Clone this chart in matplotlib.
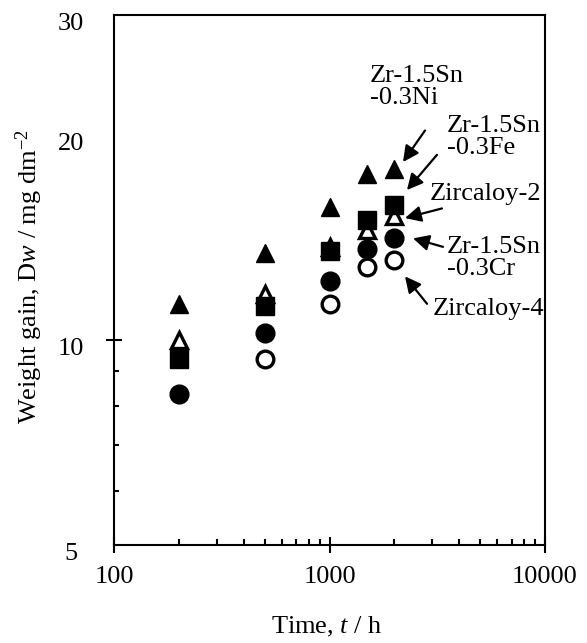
import matplotlib
matplotlib.use("Agg")
from matplotlib import pyplot as plt
from matplotlib.ticker import FixedLocator, NullFormatter
from matplotlib.transforms import ScaledTranslation

# Oxidation data
times = [200, 500, 1000, 1500, 2000]
zr_ni = [11.3, 13.4, 15.7, 17.5, 17.8]
zr_fe = [9.38, 11.2, 13.5, 15.0, 15.8]
zry2 = [10.0, 11.7, 13.7, 14.5, 15.2]
zr_cr = [8.33, 10.24, 12.2, 13.6, 14.1]
zry4_times = [500, 1000, 1500, 2000]
zry4 = [9.38, 11.3, 12.8, 13.1]

x_ticks = [100, 1000, 10000]
x_labels = ["100", "1000", "10000"]
y_ticks = [5, 10, 20, 30]
y_labels = ["5", "10", "20", "30"]

plt.rcParams['font.family'] = ['Liberation Serif', 'DejaVu Serif']
plt.rcParams['mathtext.fontset'] = 'custom'
plt.rcParams['mathtext.rm'] = 'Liberation Serif'
plt.rcParams['mathtext.it'] = 'Liberation Serif:italic'

fs = 19
fig = plt.figure(figsize=(5.87, 6.43), dpi=100)
ax = fig.add_axes([114 / 587, 98 / 643, 431 / 587, 530 / 643])

ms = 13.5
ax.plot(zry4_times, zry4, 'o', ms=ms - 1.5, mfc='white', mec='black', mew=2.4, ls='none', zorder=3)
ax.plot(times, zr_cr, 'o', ms=ms, mfc='black', mec='black', mew=1, ls='none', zorder=4)
ax.plot(times, zry2, '^', ms=ms - 1.5, mfc='white', mec='black', mew=2.4, ls='none', zorder=5)
ax.plot(times, zr_fe, 's', ms=ms, mfc='black', mec='black', mew=1, ls='none', zorder=6)
ax.plot(times, zr_ni, '^', ms=ms, mfc='black', mec='black', mew=1, ls='none', zorder=7)

ax.set_xscale('log')
ax.set_yscale('log')
ax.set_xlim(100, 10000)
ax.set_ylim(5, 30)

ax.set_xticks(x_ticks, x_labels)
ax.xaxis.set_minor_locator(FixedLocator([200, 300, 400, 500, 600, 700, 800, 900,
                                         2000, 3000, 4000, 5000, 6000, 7000, 8000, 9000]))
ax.xaxis.set_minor_formatter(NullFormatter())
ax.set_yticks(y_ticks, y_labels, ha='center')
ax.yaxis.set_minor_locator(FixedLocator([6, 7, 8, 9, 20]))
ax.yaxis.set_minor_formatter(NullFormatter())

ax.tick_params(axis='x', which='major', direction='inout', length=11, width=1.5, pad=9.5, labelsize=fs)
ax.tick_params(axis='x', which='minor', direction='in', length=4.5, width=1.5)
ax.tick_params(axis='y', which='major', direction='inout', length=11, width=1.5, pad=25.5, labelsize=fs)
ax.tick_params(axis='y', which='minor', direction='in', length=3.5, width=1.5)

# only the 10 tick keeps its major tick line
for tick in ax.yaxis.get_major_ticks():
    if tick.get_loc() != 10:
        tick.tick1line.set_visible(False)

shift = ScaledTranslation(0, -7 / 100, fig.dpi_scale_trans)
for lab in ax.get_yticklabels():
    lab.set_transform(lab.get_transform() + shift)

for sp in ax.spines.values():
    sp.set_linewidth(1.5)

fig.text(29 / 587, 1 - 277 / 643, "Weight gain, D$w$ / mg dm$^{-2}$", rotation=90,
         ha='center', va='center', fontsize=fs)
fig.text(327 / 587, 1 - 627 / 643, "Time, $t$ / h", ha='center', va='center', fontsize=fs)

# labels with arrows
ax.text(1542, 25.3, "Zr-1.5Sn\n-0.3Ni", ha='left', va='top', fontsize=fs, linespacing=1.0)
ax.text(3510, 21.4, "Zr-1.5Sn\n-0.3Fe", ha='left', va='top', fontsize=fs, linespacing=1.0)
ax.text(2927, 16.4, "Zircaloy-2", ha='left', va='center', fontsize=fs)
ax.text(3510, 14.2, "Zr-1.5Sn\n-0.3Cr", ha='left', va='top', fontsize=fs, linespacing=1.0)
ax.text(3022, 11.1, "Zircaloy-4", ha='left', va='center', fontsize=fs)

arrows = [
    ((2774, 20.3), (2193, 18.25)),
    ((3153, 18.7), (2288, 16.6)),
    ((3327, 15.6), (2240, 15.1)),
    ((3363, 13.7), (2441, 14.1)),
    ((2835, 11.3), (2240, 12.4)),
]
for tail, head in arrows:
    ax.annotate('', xy=head, xytext=tail,
                arrowprops=dict(arrowstyle='-|>', color='black', lw=1.6,
                                mutation_scale=24, shrinkA=0, shrinkB=0))

fig.savefig('out.png', dpi=100)
